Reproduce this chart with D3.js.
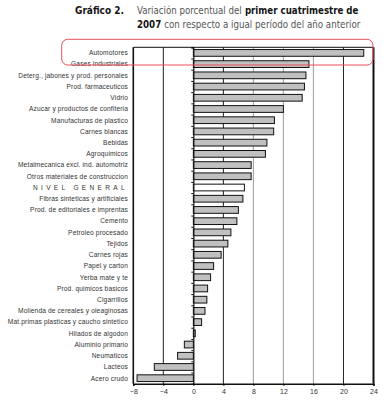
<!DOCTYPE html>
<html><head><meta charset="utf-8">
<script src="https://cdn.jsdelivr.net/npm/d3@7"></script>
<style>body{margin:0;background:#fff;}svg{display:block;}</style>
</head><body>
<script>
const categories = ["Automotores","Gases industriales","Deterg., jabones y prod. personales","Prod. farmaceuticos","Vidrio","Azucar y productos de confiteria","Manufacturas de plastico","Carnes blancas","Bebidas","Agroquimicos","Metalmecanica excl. ind. automotriz","Otros materiales de construccion","NIVEL GENERAL","Fibras sinteticas y artificiales","Prod. de editoriales e imprentas","Cemento","Petroleo procesado","Tejidos","Carnes rojas","Papel y carton","Yerba mate y te","Prod. quimicos basicos","Cigarrillos","Molienda de cereales y oleaginosas","Mat.primas plasticas y caucho sintetico","Hilados de algodon","Aluminio primario","Neumaticos","Lacteos","Acero crudo"];
const values = [22.7,15.4,15.0,14.8,14.5,12.0,10.8,10.7,9.8,9.6,7.7,7.7,6.8,6.6,6.0,5.8,5.0,4.6,3.7,2.7,2.3,1.9,1.8,1.55,1.1,0.25,-1.2,-2.1,-5.2,-7.5];
const xTicks = [-8,-4,0,4,8,12,16,20,24];
const darkGrid = [-4,4,20];
const titleLines = [
  {x0:75, x1:124, y:14, parts:[{text:"Gráfico 2.", bold:true}]},
  {x0:137, x1:358.7, y:14, parts:[{text:"Variación porcentual del", bold:false},{text:"primer cuatrimestre de", bold:true}]},
  {x0:137, x1:360.7, y:28, parts:[{text:"2007", bold:true},{text:"con respecto a igual período del año anterior", bold:false}]}
];

(function(){
const W=386,H=400;
const svg=d3.select("body").append("svg").attr("width",W).attr("height",H);
const pL=133.3,pR=373.5,pT=47.3,pB=383.8;
const x=d3.scaleLinear().domain([-8,24]).range([pL,pR]);
const y=d3.scaleBand().domain(categories).range([pT,pB]).paddingInner(0.4).paddingOuter(0.2);
const tf="'Liberation Sans Narrow','DejaVu Sans Condensed',sans-serif";

// title: one font size per line, fitted to the reference span, parts laid out in sequence
const tg=svg.append("g");
titleLines.forEach(L=>{
  const base=11.5, gapEm=0.3;
  const nodes=L.parts.map(p=>tg.append("text").attr("font-family",tf).attr("font-size",base)
     .attr("y",L.y).attr("font-weight",p.bold?"bold":"normal").attr("fill",p.bold?"#151515":"#555").text(p.text));
  const widths=nodes.map(n=>n.node().getComputedTextLength());
  const total=d3.sum(widths)+gapEm*base*(nodes.length-1);
  const k=Math.min(1.05,(L.x1-L.x0)/total);
  const fs=base*k;
  let cx=L.x0;
  nodes.forEach((n,i)=>{
    n.attr("font-size",fs.toFixed(2)).attr("x",cx);
    cx+=widths[i]*k+gapEm*fs;
  });
});

// gridlines
svg.append("g").selectAll("line").data(xTicks.filter(d=>d!==-8&&d!==0&&d!==24)).join("line")
 .attr("x1",d=>x(d)).attr("x2",d=>x(d)).attr("y1",pT).attr("y2",pB)
 .attr("stroke",d=>darkGrid.includes(d)?"#222":"#aaa").attr("stroke-width",d=>darkGrid.includes(d)?1:1.2);

// frame
svg.append("line").attr("x1",pL).attr("x2",pR).attr("y1",pT).attr("y2",pT).attr("stroke","#111").attr("stroke-width",1);
svg.append("line").attr("x1",pL).attr("x2",pL).attr("y1",pT).attr("y2",pB).attr("stroke","#111").attr("stroke-width",1.6);
svg.append("line").attr("x1",pR).attr("x2",pR).attr("y1",pT).attr("y2",pB).attr("stroke","#111").attr("stroke-width",2);

// bars
svg.append("g").selectAll("rect").data(values).join("rect")
 .attr("x",d=>x(Math.min(0,d))).attr("width",d=>Math.abs(x(d)-x(0)))
 .attr("y",(d,i)=>y(categories[i])).attr("height",y.bandwidth())
 .attr("fill",(d,i)=>categories[i]==="NIVEL GENERAL"?"#fff":"#c0c0c0")
 .attr("stroke","#111").attr("stroke-width",1);

// zero axis with small ticks
const yb=d3.scaleLinear().domain([0,categories.length]).range([pT,pB]);
svg.append("g").attr("transform",`translate(${x(0)},0)`)
 .call(d3.axisLeft(yb).ticks(30).tickSize(2).tickFormat(""))
 .call(g=>g.select(".domain").attr("stroke","#111").attr("stroke-width",1.2));

// bottom axis
svg.append("g").attr("transform",`translate(0,${pB})`)
 .call(d3.axisBottom(x).tickValues(xTicks).tickSize(2).tickPadding(3))
 .call(g=>g.select(".domain").attr("stroke","#111").attr("stroke-width",1.6))
 .call(g=>g.selectAll("text").attr("font-family","Liberation Sans, Arial, sans-serif").attr("font-size",7).attr("fill","#333"));

// category labels
svg.append("g").selectAll("text").data(categories).join("text")
 .attr("x",128).attr("y",d=>y(d)+y.bandwidth()/2).attr("dy","0.35em")
 .attr("text-anchor","end").attr("font-family","Liberation Sans, Arial, sans-serif")
 .attr("font-size",6.6).attr("fill","#333")
 .attr("letter-spacing",d=>d==="NIVEL GENERAL"?"3.3px":"0.15px")
 .text(d=>d);

// red highlight
svg.append("rect").attr("x",61.7).attr("y",39.3).attr("width",373-61.7).attr("height",65-39.3)
 .attr("rx",6).attr("ry",6).attr("fill","none").attr("stroke","#e8505a").attr("stroke-width",1);
})();
</script>
</body></html>
